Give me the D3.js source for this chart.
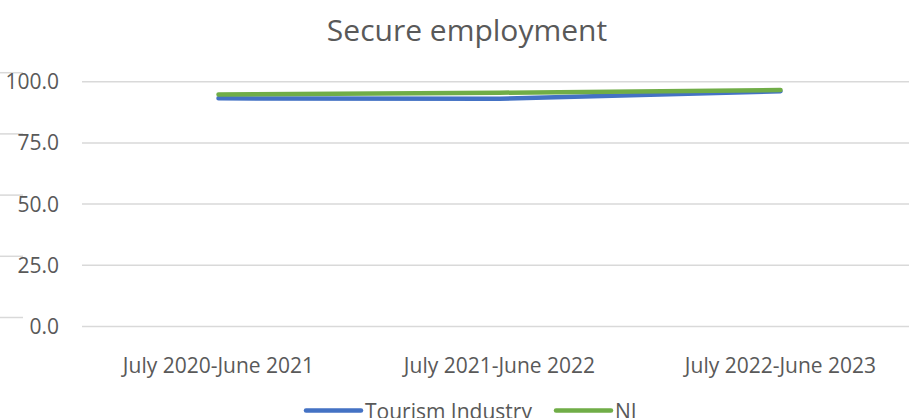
<!DOCTYPE html>
<html lang="en">
<head>
    <meta charset="UTF-8">
    <title>Secure employment</title>
    <script src="https://cdn.jsdelivr.net/npm/d3@7"></script>
    <style>
        body { margin: 0; background: #fff; }
        text { font-family: "Open Sans", sans-serif; fill: #595959; }
    </style>
</head>
<body>
<svg width="909" height="418"></svg>
<script>
    var categories = ["July 2020-June 2021", "July 2021-June 2022", "July 2022-June 2023"];
    var tourism = [93.2, 93.0, 96.1];
    var ni = [94.8, 95.5, 96.6];
    var yTicks = [0, 25, 50, 75, 100];

    var series = [
        { name: "Tourism Industry", values: tourism, color: "#4472c4" },
        { name: "NI", values: ni, color: "#70ad47" }
    ];

    var width = 909, height = 418;
    var svg = d3.select("svg");

    var x = d3.scalePoint().domain(categories).range([78, 921]).padding(0.5);
    var y = d3.scaleLinear().domain([0, 100]).range([326.5, 81.7]);

    // title
    svg.append("text")
        .attr("x", 467).attr("y", 41)
        .attr("text-anchor", "middle")
        .style("font-size", "30px")
        .text("Secure employment");

    // stray gridline stubs on the left edge (from the cropped source)
    svg.append("g").selectAll("line")
        .data(yTicks).enter().append("line")
        .attr("x1", 0).attr("x2", 23)
        .attr("y1", function(d) { return y(d) - 9; })
        .attr("y2", function(d) { return y(d) - 9; })
        .style("stroke", "#d9d9d9").style("stroke-width", 1.5);

    // gridlines
    svg.append("g").selectAll("line")
        .data(yTicks).enter().append("line")
        .attr("x1", 82).attr("x2", width)
        .attr("y1", function(d) { return y(d); })
        .attr("y2", function(d) { return y(d); })
        .style("stroke", "#d9d9d9").style("stroke-width", 1.5);

    // y labels
    svg.append("g").selectAll("text")
        .data(yTicks).enter().append("text")
        .attr("x", 59)
        .attr("y", function(d) { return y(d) + 7.5; })
        .attr("text-anchor", "end")
        .style("font-size", "21px")
        .text(function(d) { return d3.format(".1f")(d); });

    // x labels
    svg.append("g").selectAll("text")
        .data(categories).enter().append("text")
        .attr("x", function(d) { return x(d); })
        .attr("y", 373)
        .attr("text-anchor", "middle")
        .style("font-size", "21px")
        .text(function(d) { return d; });

    // lines
    var line = d3.line()
        .x(function(d, i) { return x(categories[i]); })
        .y(function(d) { return y(d); });

    svg.append("g").selectAll("path")
        .data(series).enter().append("path")
        .attr("d", function(d) { return line(d.values); })
        .style("fill", "none")
        .style("stroke", function(d) { return d.color; })
        .style("stroke-width", 4.5)
        .style("stroke-linecap", "round")
        .style("stroke-linejoin", "round");

    // legend
    var legendX = [306, 556];
    var legend = svg.append("g").selectAll("g")
        .data(series).enter().append("g")
        .attr("transform", function(d, i) { return "translate(" + legendX[i] + ",410.5)"; });

    legend.append("line")
        .attr("x1", 0).attr("x2", 55)
        .style("stroke", function(d) { return d.color; })
        .style("stroke-width", 4.5)
        .style("stroke-linecap", "round");

    legend.append("text")
        .attr("x", 59).attr("y", 8)
        .style("font-size", "21px")
        .text(function(d) { return d.name; });
</script>
</body>
</html>
